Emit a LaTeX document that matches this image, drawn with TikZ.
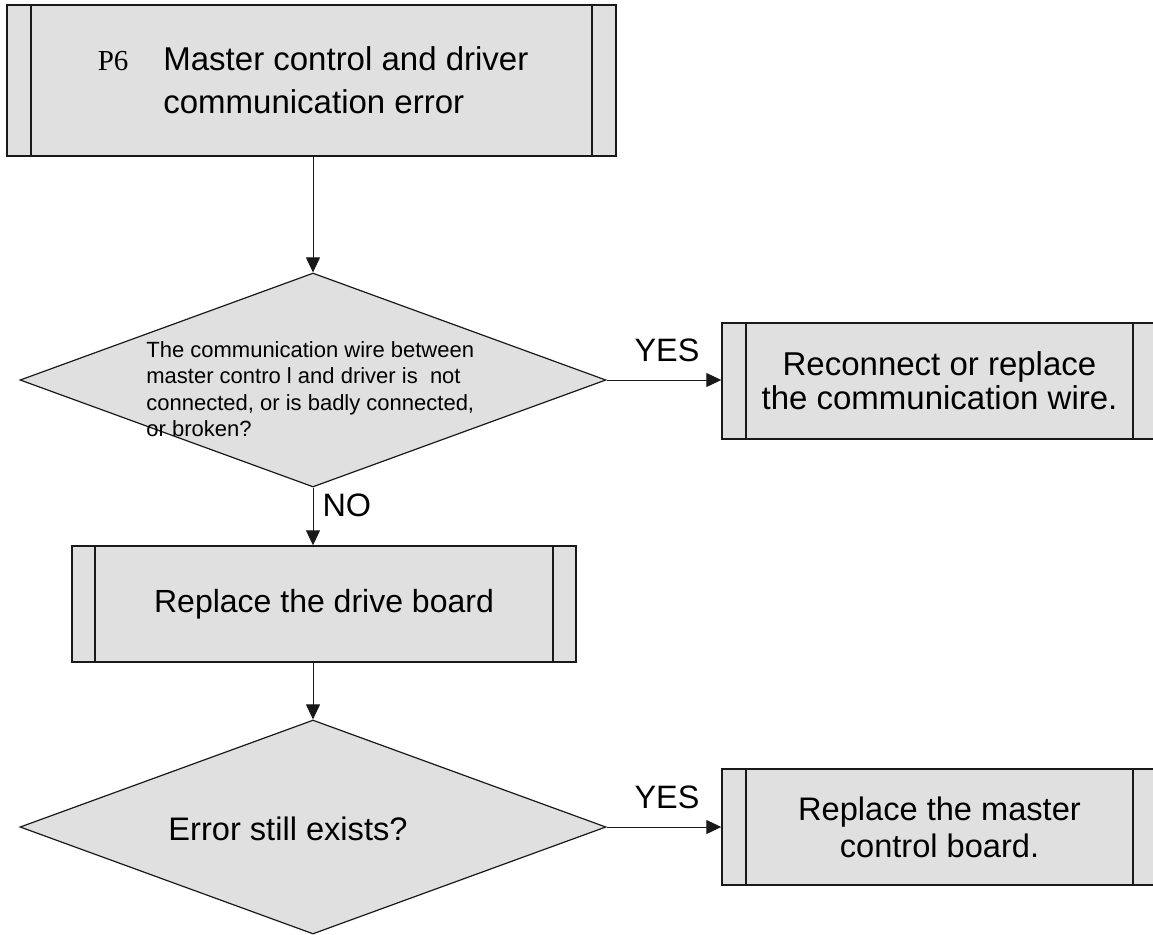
\documentclass[tikz,border=0pt]{standalone}
\usepackage{fontspec}
\setmainfont{Liberation Sans}
\newfontfamily\pfont{Liberation Serif}
\usetikzlibrary{shapes.geometric,arrows.meta}

\definecolor{boxfill}{RGB}{224,224,224}
\definecolor{edge}{RGB}{25,25,25}

\begin{document}
\begin{tikzpicture}[x=0.5pt,y=-0.5pt,
  procbox/.style={draw=edge,line width=0.7pt,fill=boxfill,inner sep=0pt,align=center,
    path picture={
      \draw[edge,line width=0.6pt] ([xshift=#1]path picture bounding box.north west) -- ([xshift=#1]path picture bounding box.south west);
      \draw[edge,line width=0.6pt] ([xshift=-#1]path picture bounding box.north east) -- ([xshift=-#1]path picture bounding box.south east);}},
  decide/.style={diamond,draw=edge,line width=0.6pt,fill=boxfill,inner sep=0pt,
    minimum width=293pt,minimum height=107pt},
  arr/.style={draw=edge,line width=0.5pt,-{Triangle[length=7.5pt,width=7pt]}},
  lbl/.style={inner sep=0pt,font=\fontsize{16.2}{18}\selectfont}]
\useasboundingbox (0,0) rectangle (1153,934);

% boxes and decisions
\node[procbox=12pt,minimum width=304.5pt,minimum height=75.5pt] (top) at (311.5,80.5) {};
\node[anchor=base west,inner sep=0pt,align=left,font=\fontsize{16.5}{21.5}\selectfont] (title) at (163,113)
  {\llap{{\pfont\fontsize{14.5}{16}\selectfont P6}\hspace{17.5pt}}Master control and driver\\communication error};

\node[decide] (q1) at (313,380) {};
\node[anchor=base west,inner sep=0pt,align=left,font=\fontsize{11}{13.25}\selectfont] (q1txt) at (146,436.5)
  {The communication wire between\\master contro l and driver is\ \ not\\connected, or is badly connected,\\or broken?};

\node[procbox=12pt,minimum width=217.5pt,minimum height=58pt,font=\fontsize{16.5}{17}\selectfont] (fix) at (939.5,381)
  {Reconnect or replace\\the communication wire.};

\node[procbox=11.5pt,minimum width=252pt,minimum height=58pt,font=\fontsize{16}{18}\selectfont] (drv) at (324,604)
  {Replace the drive board};

\node[decide] (q2) at (313,827) {};
\node[lbl,anchor=base,font=\fontsize{16.3}{18}\selectfont] (q2txt) at (288,840) {Error still exists?};

\node[procbox=12pt,minimum width=217.5pt,minimum height=58pt,font=\fontsize{16.3}{18.5}\selectfont] (mcb) at (939.5,827)
  {Replace the master\\control board.};

% connectors
\draw[arr] (q1.north |- top.south) -- (q1.north);
\draw[arr] (q1.south) -- node[lbl,anchor=base west,xshift=4.5pt,name=no1] {NO} (q1.south |- drv.north);
\draw[arr] (q2.north |- drv.south) -- (q2.north);
\foreach \q/\b in {q1/fix,q2/mcb}
  \draw[arr] (\q.east) -- node[lbl,above=9pt,xshift=1.5pt,name=yes-\q] {YES} (\q.east -| \b.west);
\end{tikzpicture}
\end{document}
